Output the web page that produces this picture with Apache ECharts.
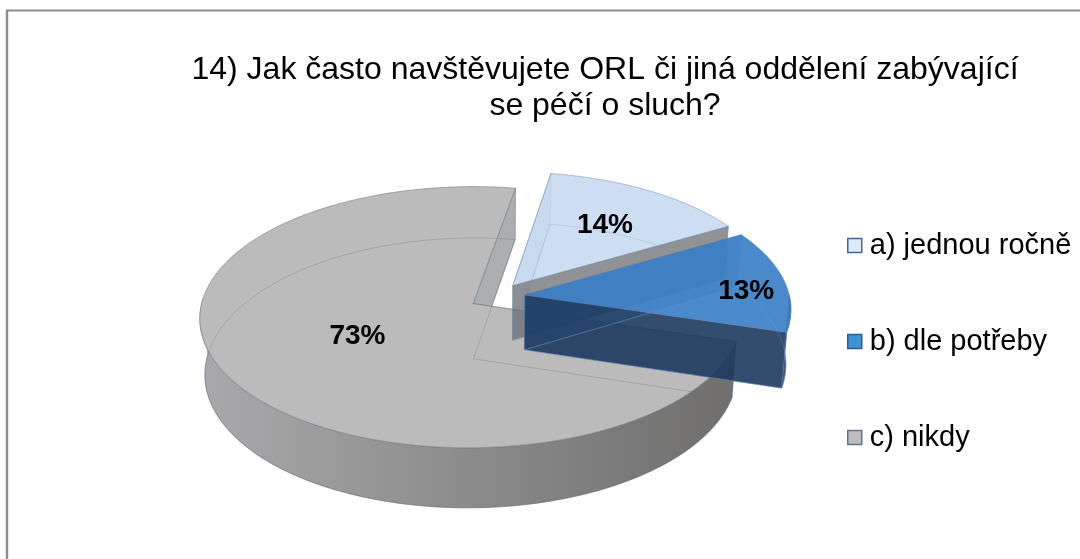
<!DOCTYPE html>
<html>
<head>
<meta charset="utf-8">
<style>html,body{margin:0;padding:0;background:#fff}#chart{width:1080px;height:559px}</style>
<script src="https://cdn.jsdelivr.net/npm/echarts@6/dist/echarts.min.js"></script>
</head>
<body>
<div id="chart"></div>
<script>
// Survey answers, in percent
const answerNames = ['a) jednou ročně', 'b) dle potřeby', 'c) nikdy'];
const answerShares = [14, 13, 73];
const chartTitle = '14) Jak často navštěvujete ORL či jiná oddělení zabývající\nse péčí o sluch?';

// Percent labels: distance from the slice tip (fraction of the radius) plus a small pixel nudge
const labelReach = [0.6, 0.84, 0.5];
const labelNudge = [[7, -2], [3, 9], [3, -3]];

// Perspective disc: plane coordinates (u right, v toward the viewer) map to the screen
const DISC = {
  cx: 497, cy: 296.5, rx: 267.3, ry: 127.6,
  tiltV: 0.1033, tiltU: 0.008,
  height: 55, narrowing: 0.017,
  firstAngle: 9.5, explode: 0.105
};

const SLICE_LOOK = [
  {
    legend: '#dceaf9', legendEdge: '#41659a',
    top: 'rgba(196,216,240,0.84)',
    wallStart: 'rgba(120,130,142,0.22)', wallEnd: 'rgba(105,108,112,0.74)',
    outer: ['rgba(110,120,135,0.6)', 'rgba(110,120,135,0.6)'],
    edge: 'rgba(120,135,160,0.5)', under: 'rgba(120,135,160,0.22)', z: 3
  },
  {
    legend: '#3f93d2', legendEdge: '#2e5a90',
    top: 'rgba(60,128,198,0.93)',
    wallStart: 'rgba(30,70,115,0.3)', wallEnd: 'rgba(28,58,94,0.9)',
    outer: ['rgba(48,78,112,0.94)', 'rgba(48,78,112,0.94)'],
    edge: 'rgba(90,125,170,0.45)', under: 'rgba(120,160,205,0.3)', z: 4
  },
  {
    legend: '#bdbdbd', legendEdge: '#5f7590',
    top: 'rgba(187,187,187,1)',
    wallStart: 'rgba(198,198,198,0.85)', wallEnd: 'rgba(118,120,124,0.6)',
    outer: ['#a9a9ab', '#6f6e6d'],
    edge: 'rgba(105,118,135,0.55)', under: 'rgba(105,112,122,0.32)', z: 2
  }
];

function project(u, v, depth) {
  const w = 1 - DISC.tiltV * v + DISC.tiltU * u;
  const x = DISC.rx * u / w * (1 - DISC.narrowing * depth);
  const y = DISC.ry * v / w + depth * DISC.height / Math.pow(w, 0.75);
  return [DISC.cx + x, DISC.cy + y];
}

function drawSlice(index, share, api) {
  const total = answerShares.reduce((a, b) => a + b, 0);
  const before = answerShares.slice(0, index).reduce((a, b) => a + b, 0);
  const deg = Math.PI / 180;
  const start = (DISC.firstAngle + before / total * 360) * deg;
  const end = start + share / total * 360 * deg;
  const mid = (start + end) / 2;
  const look = SLICE_LOOK[index];
  const tipU = DISC.explode * Math.sin(mid);
  const tipV = -DISC.explode * Math.cos(mid);
  const rimPoint = (t, depth) =>
    project(tipU + Math.sin(t), tipV - Math.cos(t), depth);
  const tip = depth => project(tipU, tipV, depth);

  const rim = (from, to, depth) => {
    const pts = [];
    const n = Math.max(2, Math.ceil(Math.abs(to - from) / (1.5 * deg)));
    for (let i = 0; i <= n; i++) pts.push(rimPoint(from + (to - from) * i / n, depth));
    return pts;
  };
  const poly = (points, fill, stroke) => ({
    type: 'polygon',
    shape: { points },
    style: { fill, stroke: stroke || 'none', lineWidth: 1 }
  });

  const children = [];
  // the two flat cut walls
  children.push(poly([tip(0), rimPoint(end, 0), rimPoint(end, 1), tip(1)], look.wallEnd, look.edge));
  children.push(poly([tip(0), rimPoint(start, 0), rimPoint(start, 1), tip(1)], look.wallStart, look.edge));
  // curved outer wall, only the part that faces the viewer
  const from = Math.max(start, 90 * deg);
  const to = Math.min(end, 272 * deg);
  if (to > from) {
    const fill = new echarts.graphic.LinearGradient(202, 0, 733, 0, [
      { offset: 0, color: look.outer[0] },
      { offset: 1, color: look.outer[1] }
    ], true);
    children.push(poly([...rim(from, to, 0), ...rim(to, from, 1)], fill, look.edge));
  }
  // top face
  children.push(poly([tip(0), ...rim(start, end, 0)], look.top, look.edge));
  // outline of the underside, seen through the translucent top
  children.push(poly([tip(1), ...rim(start, end, 1)], 'none', look.under));
  // percent label
  const reach = labelReach[index];
  const at = project(tipU + reach * Math.sin(mid), tipV - reach * Math.cos(mid), 0);
  children.push({
    type: 'text',
    z2: 50,
    style: {
      x: at[0] + labelNudge[index][0], y: at[1] + labelNudge[index][1],
      text: api.value(0) + '%',
      fill: '#000', font: 'bold 28px "Liberation Sans", Arial, sans-serif',
      align: 'center', verticalAlign: 'middle'
    }
  });
  return { type: 'group', children };
}

const series = answerNames.map((name, i) => ({
  type: 'custom',
  name,
  coordinateSystem: 'none',
  silent: true,
  z: SLICE_LOOK[i].z,
  itemStyle: { color: SLICE_LOOK[i].legend },
  data: [answerShares[i]],
  renderItem: (params, api) => drawSlice(i, api.value(0), api)
}));

const chart = echarts.init(document.getElementById('chart'), null, { renderer: 'canvas' });
chart.setOption({
  animation: false,
  backgroundColor: '#ffffff',
  title: {
    text: chartTitle,
    left: 600,
    top: 47,
    textAlign: 'center',
    textStyle: {
      fontFamily: '"Liberation Sans", Arial, sans-serif',
      fontWeight: 'normal',
      fontSize: 32,
      lineHeight: 36,
      color: '#000'
    }
  },
  legend: {
    orient: 'vertical',
    left: 842,
    top: 226,
    icon: 'rect',
    itemWidth: 14,
    itemHeight: 14,
    itemGap: 67,
    textStyle: {
      fontFamily: '"Liberation Sans", Arial, sans-serif',
      fontSize: 29,
      color: '#000',
      padding: [0, 0, 0, 3]
    },
    data: answerNames.map((name, i) => ({
      name,
      itemStyle: { color: SLICE_LOOK[i].legend, borderColor: SLICE_LOOK[i].legendEdge, borderWidth: 1.5 }
    }))
  },
  graphic: [
    { type: 'line', silent: true, shape: { x1: 7, y1: 10, x2: 7, y2: 559 }, style: { stroke: '#8e8e8e', lineWidth: 2.5 } },
    { type: 'line', silent: true, shape: { x1: 6, y1: 10.5, x2: 1080, y2: 10.5 }, style: { stroke: '#8e8e8e', lineWidth: 2 } }
  ],
  series
});
</script>
</body>
</html>
